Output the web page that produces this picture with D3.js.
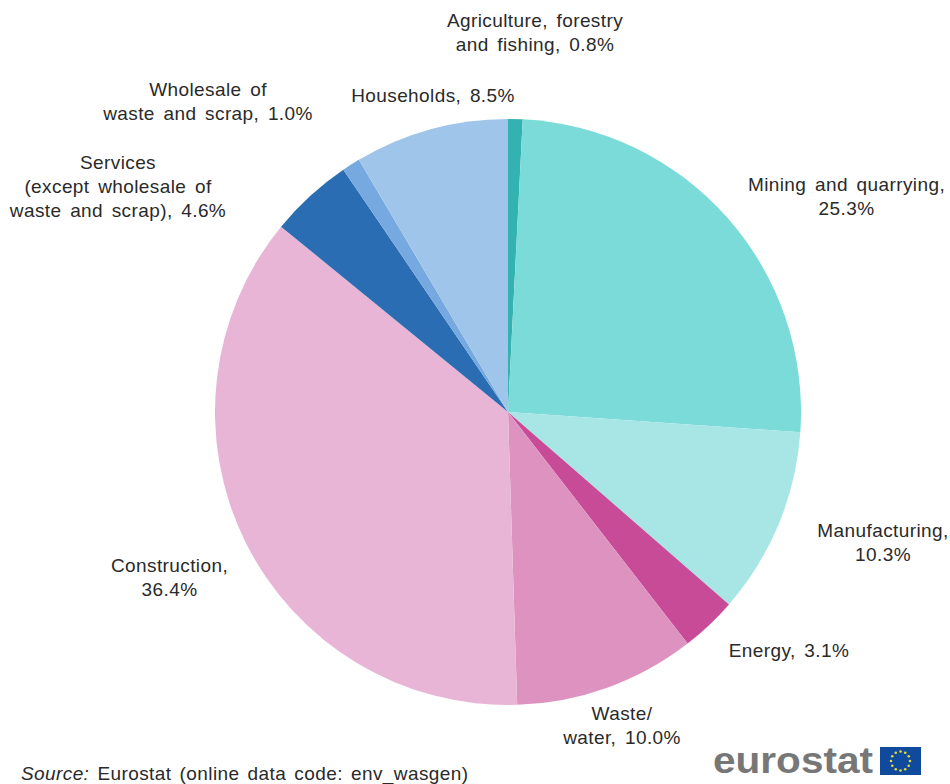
<!DOCTYPE html>
<html><head><meta charset="utf-8">
<script src="https://cdn.jsdelivr.net/npm/d3@7"></script>
<style>html,body{margin:0;padding:0;background:#fff}svg{display:block}
text{font-family:"Liberation Sans",Arial,sans-serif;fill:#2a2a2a}</style></head>
<body><svg id="c" width="950" height="784"></svg>
<script>
const categories=["Agriculture, forestry and fishing","Mining and quarrying","Manufacturing","Energy","Waste/water","Construction","Services (except wholesale of waste and scrap)","Wholesale of waste and scrap","Households"];
const shares=[0.8,25.3,10.3,3.1,10.0,36.4,4.6,1.0,8.5];
const colours=["#32b2b0","#7bdbd9","#a8e6e6","#c84b97","#de92c0","#e8b5d6","#2a6db3","#75a9e0","#a0c5ea"];
const labelLines=[["Agriculture, forestry","and fishing, 0.8%"],["Mining and quarrying,","25.3%"],["Manufacturing,","10.3%"],["Energy, 3.1%"],["Waste/","water, 10.0%"],["Construction,","36.4%"],["Services","(except wholesale of","waste and scrap), 4.6%"],["Wholesale of","waste and scrap, 1.0%"],["Households, 8.5%"]];
const labelAnchors=[[535,27],[846.5,191],[883,537],[789,657],[622,720],[169.5,572],[118,169],[208,96],[433,102]];
const svg=d3.select("#c");
const cx=508,cy=412,r=293;
const pie=d3.pie().sort(null).value(d=>d)(shares);
const arc=d3.arc().innerRadius(0).outerRadius(r);
svg.append("g").attr("transform",`translate(${cx},${cy})`).selectAll("path").data(pie).join("path")
 .attr("d",arc).attr("fill",(d,i)=>colours[i]);
const lab=svg.append("g").attr("font-size",19).attr("text-anchor","middle").attr("word-spacing",3).attr("letter-spacing",0.4);
labelLines.forEach((ls,i)=>{const t=lab.append("text").attr("data-category",categories[i]);
 ls.forEach((l,j)=>t.append("tspan").attr("x",labelAnchors[i][0]).attr("y",labelAnchors[i][1]+j*24).text(l));});
const src=svg.append("text").attr("x",21).attr("y",780).attr("font-size",19).attr("word-spacing",2.5).attr("letter-spacing",0.4);
src.append("tspan").attr("font-style","italic").text("Source:");
src.append("tspan").text(" Eurostat (online data code: env_wasgen)");
svg.append("text").attr("x",713).attr("y",773).attr("font-size",37).attr("font-weight","bold").attr("textLength",160).attr("lengthAdjust","spacingAndGlyphs").style("fill","#777").text("eurostat");
svg.append("rect").attr("x",880).attr("y",747).attr("width",41).attr("height",28).attr("fill","#0f4a9c");
const stars=d3.range(12);
svg.append("g").selectAll("circle").data(stars).join("circle")
 .attr("cx",d=>900.5+9.5*Math.cos(d*Math.PI/6)).attr("cy",d=>761+9.5*Math.sin(d*Math.PI/6)).attr("r",1.3).attr("fill","#e6d83a");
</script></body></html>
